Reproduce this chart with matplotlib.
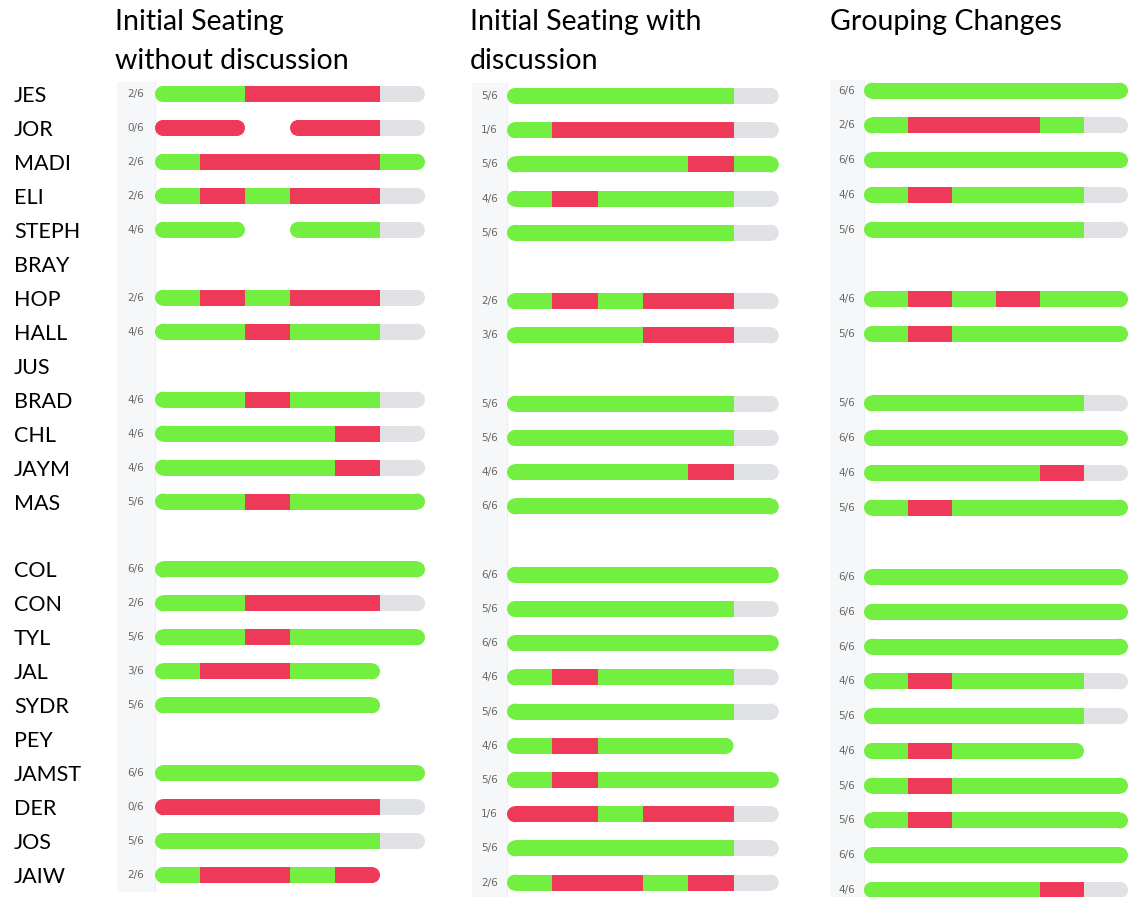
import matplotlib
matplotlib.use("Agg")
import matplotlib.pyplot as plt
from matplotlib.patches import Rectangle, Ellipse

# -------------------------
# data: one string per student, one char per question
# G = correct, R = wrong, N = not answered, W = no mark, "" = no row drawn
# -------------------------
students = ["JES", "JOR", "MADI", "ELI", "STEPH", "BRAY", "HOP", "HALL", "JUS",
            "BRAD", "CHL", "JAYM", "MAS", "",
            "COL", "CON", "TYL", "JAL", "SYDR", "PEY", "JAMST", "DER", "JOS", "JAIW"]

titles = ["Initial Seating\nwithout discussion",
          "Initial Seating with\ndiscussion",
          "Grouping Changes"]

no_discussion = ["GGRRRN", "RRWRRN", "GRRRRG", "GRGRRN", "GGWGGN", "",
                 "GRGRRN", "GGRGGN", "", "GGRGGN", "GGGGRN", "GGGGRN",
                 "GGRGGG", "",
                 "GGGGGG", "GGRRRN", "GGRGGG", "GRRGGW", "GGGGGW", "",
                 "GGGGGG", "RRRRRN", "GGGGGN", "GRRGRW"]
no_discussion_score = ["2/6", "0/6", "2/6", "2/6", "4/6", "", "2/6", "4/6", "",
                       "4/6", "4/6", "4/6", "5/6", "",
                       "6/6", "2/6", "5/6", "3/6", "5/6", "", "6/6", "0/6", "5/6", "2/6"]

with_discussion = ["GGGGGN", "GRRRRN", "GGGGRG", "GRGGGN", "GGGGGN", "",
                   "GRGRRN", "GGGRRN", "", "GGGGGN", "GGGGGN", "GGGGRN",
                   "GGGGGG", "",
                   "GGGGGG", "GGGGGN", "GGGGGG", "GRGGGN", "GGGGGN", "GRGGGW",
                   "GRGGGG", "RRGRRN", "GGGGGN", "GRRGRN"]
with_discussion_score = ["5/6", "1/6", "5/6", "4/6", "5/6", "", "2/6", "3/6", "",
                         "5/6", "5/6", "4/6", "6/6", "",
                         "6/6", "5/6", "6/6", "4/6", "5/6", "4/6", "5/6", "1/6", "5/6", "2/6"]

grouping = ["GGGGGG", "GRRRGN", "GGGGGG", "GRGGGN", "GGGGGN", "",
            "GRGRGG", "GRGGGG", "", "GGGGGN", "GGGGGG", "GGGGRN",
            "GRGGGG", "",
            "GGGGGG", "GGGGGG", "GGGGGG", "GRGGGN", "GGGGGN", "GRGGGW",
            "GRGGGG", "GRGGGG", "GGGGGG", "GGGGRN"]
grouping_score = ["6/6", "2/6", "6/6", "4/6", "5/6", "", "4/6", "5/6", "",
                  "5/6", "6/6", "4/6", "5/6", "",
                  "6/6", "6/6", "6/6", "4/6", "5/6", "4/6", "5/6", "5/6", "6/6", "4/6"]

colors = {"G": "#72ef40", "R": "#ee3a58", "N": "#e1e2e5"}

W, H = 1129, 899
fig = plt.figure(figsize=(W / 100, H / 100), dpi=100)
fig.patch.set_facecolor("white")

# panel geometry in pixels: bar start, px per question, first row y, px per row,
# left, right, top, bottom of the panel
panels = [
    dict(x0=155, seg=45.0, y0=94.0, row=33.96, left=117, right=433, top=82, bottom=892),
    dict(x0=507, seg=45.3, y0=96.0, row=34.2, left=472, right=787, top=83, bottom=897),
    dict(x0=864, seg=44.0, y0=90.7, row=34.75, left=830, right=1129, top=80, bottom=897),
]
series = [(no_discussion, no_discussion_score),
          (with_discussion, with_discussion_score),
          (grouping, grouping_score)]
title_x = [115, 470, 830]

bar_px = 16.0


def draw_row(ax, y, codes, p):
    h = bar_px / p["row"]
    r = (bar_px / 2) / p["seg"]
    # split into contiguous runs of drawn segments
    runs = []
    cur = []
    for i, c in enumerate(codes):
        if c == "W":
            if cur:
                runs.append(cur)
            cur = []
        else:
            cur.append(i)
    if cur:
        runs.append(cur)
    for run in runs:
        for k, i in enumerate(run):
            col = colors[codes[i]]
            a, b = i, i + 1
            if k == 0:
                a = i + r
                ax.add_patch(Ellipse((a, y), 2 * r, h, fc=col, ec="none", zorder=3))
            if k == len(run) - 1:
                b = i + 1 - r
                ax.add_patch(Ellipse((b, y), 2 * r, h, fc=col, ec="none", zorder=3))
            ax.add_patch(Rectangle((a, y - h / 2), b - a, h, fc=col, ec="none", zorder=3))


for n, (p, (rows, scores)) in enumerate(zip(panels, series)):
    ax = fig.add_axes([p["left"] / W, 1 - p["bottom"] / H,
                       (p["right"] - p["left"]) / W, (p["bottom"] - p["top"]) / H])
    xl = (p["left"] - p["x0"]) / p["seg"]
    ax.set_xlim(xl, (p["right"] - p["x0"]) / p["seg"])
    ax.set_ylim((p["bottom"] - p["y0"]) / p["row"], (p["top"] - p["y0"]) / p["row"])
    ax.axis("off")
    # light label column
    ax.add_patch(Rectangle((xl, -5), -xl, 40, fc="#f6f7f9", ec="none", zorder=1))
    ax.axvline(0, color="#eceef1", lw=0.8, zorder=2)
    for j, (codes, sc) in enumerate(zip(rows, scores)):
        if not codes:
            continue
        draw_row(ax, j, codes, p)
        ax.text(xl / 2, j, sc, ha="center", va="center", fontsize=7.5,
                color="#666666", family="Liberation Sans Narrow", zorder=4)
    fig.text(title_x[n] / W, 1 - 9 / H, titles[n], ha="left", va="top",
             fontsize=20.5, family="Lato", linespacing=1.6, color="black")

    if n == 0:
        for j, name in enumerate(students):
            if name:
                ax.text((14 - p["x0"]) / p["seg"], j, name, ha="left", va="center_baseline",
                        fontsize=15.5, family="Lato", color="black", clip_on=False)

fig.savefig("out.png", dpi=100, facecolor="white")
